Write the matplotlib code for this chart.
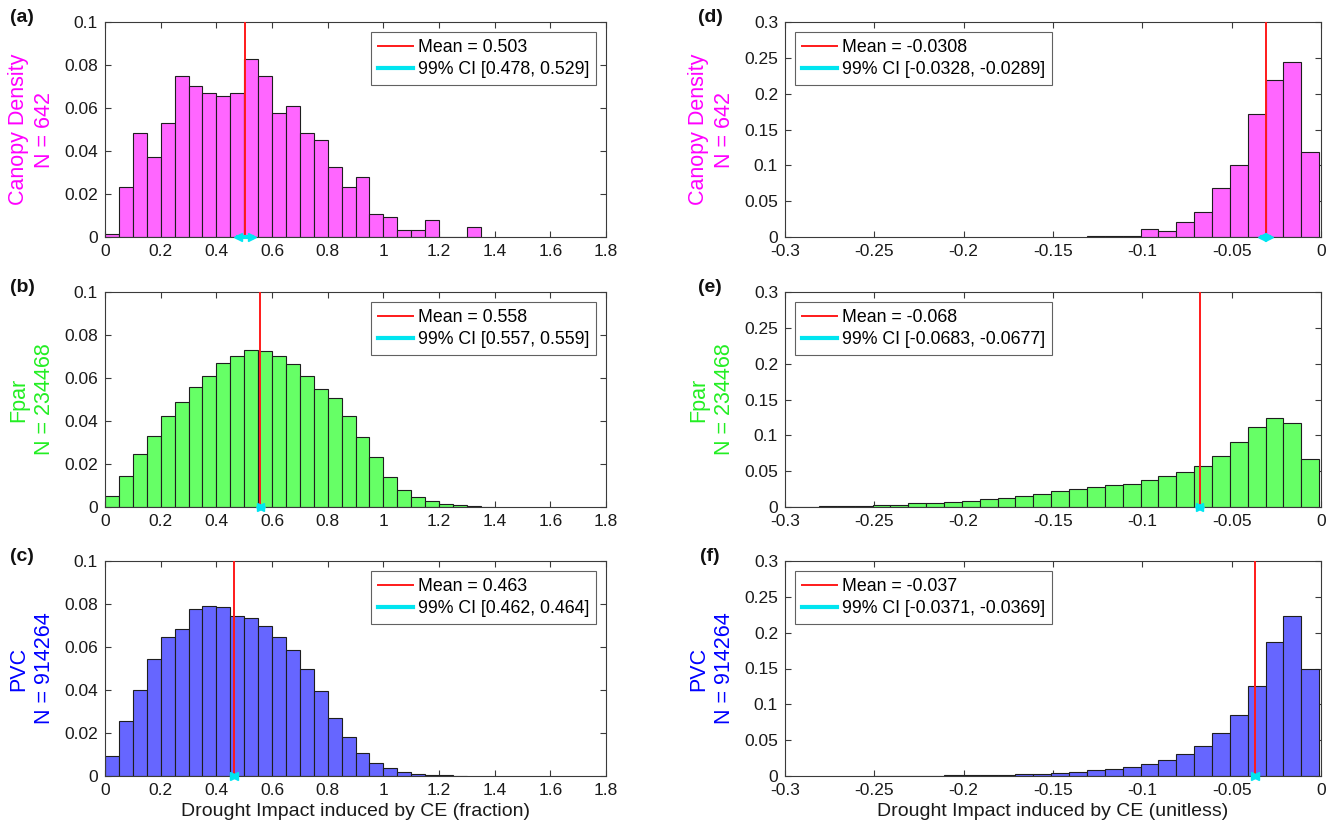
import numpy as np
import matplotlib
matplotlib.use("Agg")
import matplotlib.pyplot as plt
from matplotlib.ticker import FuncFormatter

plt.rcParams['font.family'] = ['Liberation Sans', 'DejaVu Sans']
plt.rcParams['axes.unicode_minus'] = False

# ---------------- data ----------------
variables = ["Canopy Density", "Fpar", "PVC"]
sample_sizes = [642, 234468, 914264]
var_colors = ["#FF00FF", "#22EE22", "#0000FF"]
bar_colors = ["#FF66FF", "#66FF66", "#6666FF"]
panel_letters_left = ["(a)", "(b)", "(c)"]
panel_letters_right = ["(d)", "(e)", "(f)"]

# left column: fraction, bin width 0.05 starting at 0
frac_bin_width = 0.05
frac_a = [0.0016, 0.0234, 0.0483, 0.0374, 0.0530, 0.0748, 0.0701, 0.0670, 0.0654,
          0.0670, 0.0826, 0.0748, 0.0576, 0.0607, 0.0483, 0.0452, 0.0327, 0.0234,
          0.0280, 0.0109, 0.0093, 0.0031, 0.0031, 0.0078, 0.0, 0.0, 0.0047]
frac_b = [0.0053, 0.0146, 0.0245, 0.0332, 0.0423, 0.0487, 0.0558, 0.0611, 0.0671,
          0.0702, 0.0729, 0.0724, 0.0704, 0.0664, 0.0608, 0.0549, 0.0507, 0.0425,
          0.0326, 0.0234, 0.0141, 0.0081, 0.0047, 0.0028, 0.0016, 0.0008, 0.0003, 0.0001]
frac_c = [0.0091, 0.0257, 0.0402, 0.0543, 0.0647, 0.0686, 0.0776, 0.0791, 0.0786,
          0.0746, 0.0735, 0.0698, 0.0647, 0.0588, 0.0498, 0.0396, 0.0272, 0.0180,
          0.0105, 0.0059, 0.0036, 0.0020, 0.0011, 0.0005, 0.0003, 0.0002]
frac_means = [0.503, 0.558, 0.463]
frac_ci = [(0.478, 0.529), (0.557, 0.559), (0.462, 0.464)]
frac_ci_text = ["[0.478, 0.529]", "[0.557, 0.559]", "[0.462, 0.464]"]

# right column: unitless, bin width 0.01, first left edge given per panel
unit_bin_width = 0.01
unit_first_edge = [-0.131, -0.301, -0.251]
unit_d = [0.0009, 0.0014, 0.0014, 0.0111, 0.0084, 0.0209, 0.0348, 0.0687, 0.1008,
          0.1719, 0.2197, 0.2448, 0.1184]
unit_e = [0.0003, 0.0005, 0.0009, 0.0014, 0.0019, 0.0028, 0.0033, 0.0051, 0.0060,
          0.0074, 0.0088, 0.0112, 0.0130, 0.0158, 0.0186, 0.0219, 0.0247, 0.0279,
          0.0307, 0.0326, 0.0372, 0.0428, 0.0493, 0.0572, 0.0707, 0.0907, 0.1116,
          0.1237, 0.1177, 0.0665]
unit_f = [0.0001, 0.0002, 0.0004, 0.0005, 0.0007, 0.0009, 0.0014, 0.0019, 0.0028,
          0.0033, 0.0042, 0.0056, 0.0079, 0.0098, 0.0130, 0.0167, 0.0228, 0.0311,
          0.0423, 0.0595, 0.0845, 0.1254, 0.1872, 0.2239, 0.1500]
unit_means = [-0.0308, -0.068, -0.037]
unit_ci = [(-0.0328, -0.0289), (-0.0683, -0.0677), (-0.0371, -0.0369)]
unit_mean_text = ["-0.0308", "-0.068", "-0.037"]
unit_ci_text = ["[-0.0328, -0.0289]", "[-0.0683, -0.0677]", "[-0.0371, -0.0369]"]

frac_xticks = [0, 0.2, 0.4, 0.6, 0.8, 1.0, 1.2, 1.4, 1.6, 1.8]
frac_yticks = [0, 0.02, 0.04, 0.06, 0.08, 0.1]
unit_xticks = [-0.3, -0.25, -0.2, -0.15, -0.1, -0.05, 0]
unit_yticks = [0, 0.05, 0.1, 0.15, 0.2, 0.25, 0.3]

# ---------------- figure ----------------
W, H = 1327, 834
fig = plt.figure(figsize=(W / 100, H / 100), dpi=100)

rows_px = [(22, 237), (292, 507), (561, 776)]
left_px = (105, 606)
right_px = (785, 1321)

def make_ax(xp, yp):
    x0, x1 = xp
    y0, y1 = yp
    return fig.add_axes([x0 / W, 1 - y1 / H, (x1 - x0) / W, (y1 - y0) / H])

fmt = FuncFormatter(lambda v, p: f"{round(v, 6):g}")
frame_col = "#3a3a3a"

def style(ax):
    for s in ax.spines.values():
        s.set_color(frame_col)
        s.set_linewidth(0.8)
    ax.tick_params(direction='in', top=True, right=True, length=4, width=0.8,
                   colors=frame_col, labelsize=12.5, labelcolor='#1a1a1a', pad=5)
    ax.xaxis.set_major_formatter(fmt)
    ax.yaxis.set_major_formatter(fmt)

def draw_ci(ax, lo, hi, mean_txt, ci_txt, mean):
    ax.axvline(mean, color='#FF1A1A', lw=1.4, label=f"Mean = {mean_txt}", zorder=4)
    ax.plot([lo, hi], [0, 0], color='#00E5F0', lw=3, clip_on=False, zorder=5,
            label=f"99% CI {ci_txt}")
    ax.plot([lo], [0], marker='<', color='#00E5F0', ms=6, clip_on=False, zorder=5)
    ax.plot([hi], [0], marker='>', color='#00E5F0', ms=6, clip_on=False, zorder=5)

def add_legend(ax, loc):
    leg = ax.legend(loc=loc, fontsize=12.8, frameon=True, fancybox=False,
                    borderaxespad=0.55, handlelength=2.0, handletextpad=0.25,
                    borderpad=0.4, labelspacing=0.3)
    leg.get_frame().set_edgecolor(frame_col)
    leg.get_frame().set_linewidth(0.8)

frac_data = [frac_a, frac_b, frac_c]
unit_data = [unit_d, unit_e, unit_f]

for i in range(3):
    # ---- left column ----
    ax = make_ax(left_px, rows_px[i])
    vals = frac_data[i]
    edges = [round(k * frac_bin_width, 4) for k in range(len(vals))]
    ax.bar(edges, vals, width=frac_bin_width, align='edge', color=bar_colors[i],
           edgecolor='#1e1e1e', linewidth=0.8, zorder=2)
    draw_ci(ax, frac_ci[i][0], frac_ci[i][1], f"{frac_means[i]:g}", frac_ci_text[i],
            frac_means[i])
    ax.set_xlim(0, 1.8)
    ax.set_ylim(0, 0.1)
    ax.set_xticks(frac_xticks)
    ax.set_yticks(frac_yticks)
    style(ax)
    add_legend(ax, 'upper right')
    ax.text(-0.146, 0.5, f"{variables[i]}\nN = {sample_sizes[i]}", transform=ax.transAxes,
            rotation=90, ha='center', va='center', multialignment='center',
            color=var_colors[i], fontsize=15.5, linespacing=1.3)
    ax.text(-0.165, 1.02, panel_letters_left[i], transform=ax.transAxes,
            ha='center', va='center', fontsize=14, fontweight='bold', color='#111111')
    if i == 2:
        ax.set_xlabel("Drought Impact induced by CE (fraction)", fontsize=14,
                      color='#1a1a1a', labelpad=4)

    # ---- right column ----
    ax = make_ax(right_px, rows_px[i])
    vals = unit_data[i]
    edges = [round(unit_first_edge[i] + k * unit_bin_width, 4) for k in range(len(vals))]
    ax.bar(edges, vals, width=unit_bin_width, align='edge', color=bar_colors[i],
           edgecolor='#1e1e1e', linewidth=0.8, zorder=2)
    draw_ci(ax, unit_ci[i][0], unit_ci[i][1], unit_mean_text[i], unit_ci_text[i],
            unit_means[i])
    ax.set_xlim(-0.3, 0)
    ax.set_ylim(0, 0.3)
    ax.set_xticks(unit_xticks)
    ax.set_yticks(unit_yticks)
    style(ax)
    add_legend(ax, 'upper left')
    ax.text(-0.146 * 501 / 536, 0.5, f"{variables[i]}\nN = {sample_sizes[i]}",
            transform=ax.transAxes, rotation=90, ha='center', va='center',
            multialignment='center', color=var_colors[i], fontsize=15.5, linespacing=1.3)
    ax.text(-0.140, 1.02, panel_letters_right[i], transform=ax.transAxes,
            ha='center', va='center', fontsize=14, fontweight='bold', color='#111111')
    if i == 2:
        ax.set_xlabel("Drought Impact induced by CE (unitless)", fontsize=14,
                      color='#1a1a1a', labelpad=4)

fig.savefig("out.png", dpi=100)
